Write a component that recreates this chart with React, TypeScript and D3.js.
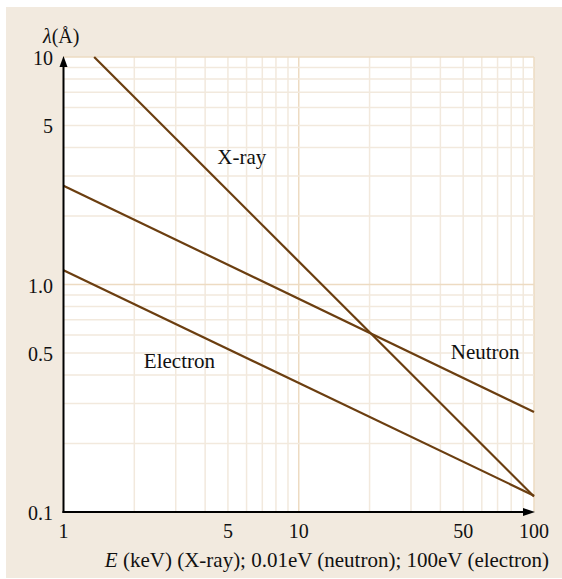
import React from 'react';
import * as d3 from 'd3';

// energies (x) and wavelengths (y) at the two ends of each line
const xrayE = [1.35, 100];
const xrayL = [10, 0.117];
const neutronE = [1, 100];
const neutronL = [2.72, 0.275];
const electronE = [1, 100];
const electronL = [1.155, 0.118];

const xTicks = [1, 5, 10, 50, 100];
const xTickLabels = ['1', '5', '10', '50', '100'];
const yTicks = [10, 5, 1, 0.5, 0.1];
const yTickLabels = ['10', '5', '1.0', '0.5', '0.1'];

const xGrid = [2, 3, 4, 5, 6, 7, 8, 9, 10, 20, 30, 40, 50, 60, 70, 80, 90, 100];
const yGrid = [0.2, 0.3, 0.4, 0.5, 0.6, 0.7, 0.8, 0.9, 1, 2, 3, 4, 5, 6, 7, 8, 9, 10];
const majorGrid = [1, 10, 100];

const seriesNames = ['X-ray', 'Neutron', 'Electron'];
// where each name sits, in data units (E, λ)
const labelE = [5.73, 62, 3.11];
const labelL = [3.39, 0.469, 0.428];

const W = 562, H = 579;
const left = 63.5, right = 534, top = 57, bottom = 512;
const font = '"Liberation Serif", "Times New Roman", serif';
const brown = '#6b3e10';

const App = () => {
  const x = d3.scaleLog().domain([1, 100]).range([left, right]);
  const y = d3.scaleLog().domain([0.1, 10]).range([bottom, top]);

  const line = d3.line<[number, number]>()
    .x(d => x(d[0]))
    .y(d => y(d[1]));

  const series = [
    d3.zip(xrayE, xrayL),
    d3.zip(neutronE, neutronL),
    d3.zip(electronE, electronL),
  ] as [number, number][][];

  return (
    <svg width={W} height={H} style={{ position: 'absolute', left: 0, top: 0 }} fontFamily={font}>
      <rect x={6} y={7} width={W - 6} height={H - 8} fill="#f2eadf" />
      <rect x={left} y={top} width={right - left} height={bottom - top} fill="#fff" />

      {xGrid.map(v => (
        <line key={'gx' + v} x1={x(v)} x2={x(v)} y1={top} y2={bottom}
          stroke={majorGrid.includes(v) ? '#eddbc2' : '#f2e9dd'} strokeWidth={1.5} />
      ))}
      {yGrid.map(v => (
        <line key={'gy' + v} x1={left} x2={right} y1={y(v)} y2={y(v)}
          stroke={majorGrid.includes(v) ? '#eddbc2' : '#f2e9dd'} strokeWidth={1.5} />
      ))}

      {series.map((s, i) => (
        <path key={'s' + i} d={line(s) || ''} fill="none" stroke={brown} strokeWidth={2.2} />
      ))}

      {seriesNames.map((n, i) => (
        <text key={n} x={x(labelE[i])} y={y(labelL[i])} fontSize={21} textAnchor="middle" fill="#111">{n}</text>
      ))}

      {/* axes */}
      <line x1={left} x2={left} y1={bottom + 1} y2={top + 8} stroke="#000" strokeWidth={2} />
      <path d={`M${left},${top - 1} L${left - 4},${top + 10} L${left + 4},${top + 10} Z`} fill="#000" />
      <line x1={left - 1} x2={right - 10} y1={bottom} y2={bottom} stroke="#000" strokeWidth={2} />
      <path d={`M${right + 1},${bottom} L${right - 11},${bottom - 4} L${right - 11},${bottom + 4} Z`} fill="#000" />

      {yTicks.map((v, i) => (
        <text key={'yt' + v} x={53} y={y(v) + 8} fontSize={20} textAnchor="end" fill="#111">{yTickLabels[i]}</text>
      ))}
      {xTicks.map((v, i) => (
        <text key={'xt' + v} x={x(v)} y={538} fontSize={20} textAnchor="middle" fill="#111">{xTickLabels[i]}</text>
      ))}

      <text x={43} y={43} fontSize={20} fill="#111">
        <tspan fontStyle="italic">λ</tspan>(Å)
      </text>
      <text x={549} y={567} fontSize={21} textAnchor="end" fill="#111">
        <tspan fontStyle="italic">E</tspan> (keV) (X-ray); 0.01eV (neutron); 100eV (electron)
      </text>
    </svg>
  );
};

export default App;
